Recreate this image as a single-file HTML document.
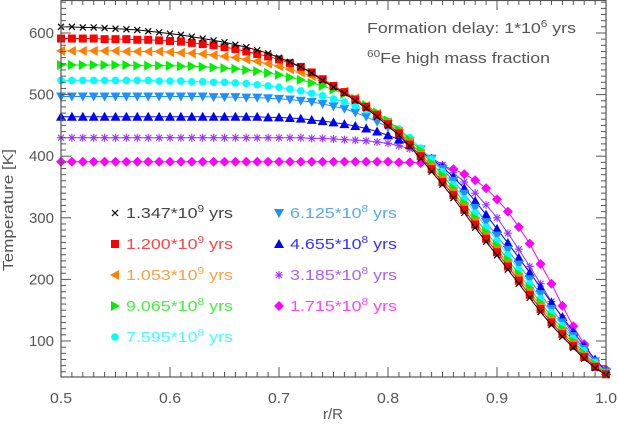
<!DOCTYPE html>
<html><head><meta charset="utf-8"><style>
html,body{margin:0;padding:0;background:#fff}
svg{display:block;font-family:"Liberation Sans","DejaVu Sans",sans-serif}
</style></head><body>
<svg id="chart" width="618" height="424" viewBox="0 0 618 424" xmlns="http://www.w3.org/2000/svg"></svg>
<script>
const rValues=[];for(let i=0;i<=50;i++)rValues.push(+(0.5+i*0.01).toFixed(2));
const seriesLabels=["1.347","1.200","1.053","9.065","7.595","6.125","4.655","3.185","1.715"];
const seriesExp=["9","9","9","8","8","8","8","8","8"];
const sBlack=[610,610,609,609,608,607,606,605,603,601,599,597,594,591,588,585,581,577,572,567,560,553,545,535,523,512,502,490,478,464,449,434,416,396,375,354,332,308,284,261,239,216,193,170,147,126,107,89,71,56,45];
const sRed=[591,591,591,591,590,590,590,589,589,588,587,586,584,582,580,577,574,570,566,562,557,551,545,536,525,514,504,492,480,467,452,437,419,400,379,358,337,313,289,266,244,221,198,175,152,130,111,92,74,58,46];
const sOrange=[571,571,571,571,571,571,570,570,570,570,569,568,567,566,564,562,560,557,554,550,546,541,536,530,523,514,505,494,482,469,455,440,423,404,384,363,342,318,294,271,249,226,203,180,157,135,115,96,77,60,47];
const sGreen=[548,548,548,548,548,548,548,547,547,547,547,546,546,545,544,543,542,540,538,535,532,528,524,519,514,508,501,493,483,471,458,443,427,409,389,369,348,324,300,277,255,232,209,186,162,140,120,100,80,62,48];
const sCyan=[523,523,523,523,523,523,523,523,523,522,522,522,521,521,520,520,519,518,516,514,512,509,506,502,498,493,488,482,475,466,456,444,430,413,395,375,354,331,308,285,263,240,216,193,169,146,125,104,84,65,49];
const sLightBlue=[497,497,497,497,497,497,497,497,497,497,497,497,497,497,496,496,496,495,495,494,493,492,490,488,485,481,477,471,464,456,447,437,425,411,396,379,360,339,316,293,271,248,224,200,176,152,130,108,87,67,50];
const sBlue=[464,464,464,464,464,464,464,464,464,464,464,464,464,464,464,464,464,464,464,463,463,462,461,459,457,455,452,449,445,440,434,427,418,408,396,382,366,348,327,305,282,259,235,211,187,162,139,115,92,70,51];
const sPurple=[430,430,430,430,430,430,430,430,430,430,430,430,430,430,430,430,430,430,430,430,430,430,430,429,429,428,427,426,425,423,421,417,412,405,397,386,373,358,340,321,300,275,249,221,193,164,137,110,86,64,52];
const sMagenta=[391,391,391,391,391,391,391,391,391,391,391,391,391,391,391,391,391,391,391,391,391,391,391,391,391,391,391,391,391,391,391,390,390,389,387,384,379,371,361,348,330,310,285,258,225,193,157,124,95,68,54];
const xTicks=[0.5,0.6,0.7,0.8,0.9,1.0];
const yTicks=[100,200,300,400,500,600];

const allSeries=[sBlack,sRed,sOrange,sGreen,sCyan,sLightBlue,sBlue,sPurple,sMagenta];
const colors=["#000000","#ff0000","#ff8000","#00ee00","#00ffff","#1e90ff","#0000ff","#9933ff","#ff00ff"];
const textColors=["#444444","#ff4444","#ffa040","#44ee44","#44ffff","#55a8ff","#3333ff","#aa60ff","#ff44ff"];
const markers=["x","square","tleft","tright","circle","tdown","tup","star","diamond"];
const names=["1347","1200","1053","9065","7595","6125","4655","3185","1715"];
const L=61,R=606,T=0,B=377;
const x=v=>L+(v-0.5)/0.5*(R-L);
const y=v=>33+(600-v)*0.616;
const NS="http://www.w3.org/2000/svg";
const svg=document.getElementById('chart');
function mk(tag,attrs,parent){const e=document.createElementNS(NS,tag);for(const k in attrs)e.setAttribute(k,attrs[k]);(parent||svg).appendChild(e);return e;}

const plotG=mk('g',{});


function marker(type,cx,cy,col,g){
  let e;
  if(type==="x"){e=mk('path',{d:`M${cx-3},${cy-3}L${cx+3},${cy+3}M${cx-3},${cy+3}L${cx+3},${cy-3}`,stroke:col,'stroke-width':1.2,fill:'none'},g);}
  else if(type==="square"){e=mk('rect',{x:cx-4,y:cy-4,width:8,height:8,fill:col},g);}
  else if(type==="tleft"){e=mk('polygon',{points:`${cx-5},${cy} ${cx+4},${cy-5} ${cx+4},${cy+5}`,fill:col},g);}
  else if(type==="tright"){e=mk('polygon',{points:`${cx+5},${cy} ${cx-4},${cy-5} ${cx-4},${cy+5}`,fill:col},g);}
  else if(type==="tdown"){e=mk('polygon',{points:`${cx},${cy+5} ${cx-5},${cy-4} ${cx+5},${cy-4}`,fill:col},g);}
  else if(type==="tup"){e=mk('polygon',{points:`${cx},${cy-5} ${cx-5},${cy+4} ${cx+5},${cy+4}`,fill:col},g);}
  else if(type==="circle"){e=mk('circle',{cx:cx,cy:cy,r:3.8,fill:col},g);}
  else if(type==="diamond"){e=mk('polygon',{points:`${cx},${cy-5} ${cx+5},${cy} ${cx},${cy+5} ${cx-5},${cy}`,fill:col},g);}
  else {e=mk('path',{d:`M${cx-3},${cy-3}L${cx+3},${cy+3}M${cx-3},${cy+3}L${cx+3},${cy-3}M${cx},${cy-4}L${cx},${cy+4}M${cx-4},${cy}L${cx+4},${cy}`,stroke:col,'stroke-width':1.1,fill:'none'},g);}
  return e;
}
for(let s=allSeries.length-1;s>=0;s--){
  const data=allSeries[s];
  const g=mk('g',{},plotG);
  
  
  const line=mk('polyline',{points:data.map((v,i)=>x(rValues[i])+','+y(v)).join(' '),fill:'none',stroke:colors[s],'stroke-width':1},g);
  
  
  data.forEach((v,i)=>{
    const m=marker(markers[s],x(rValues[i]),y(v),colors[s],g);
    
    
  });
}
const frame=mk('rect',{x:L,y:T+0.5,width:R-L,height:B-T-0.5,fill:'none',stroke:'#555','stroke-width':1.2});


const ticksG=mk('g',{stroke:'#555','stroke-width':1});


for(let i=0;i<=50;i++){const xv=x(0.5+i*0.01);const len=(i%10===0)?10:5;
  mk('line',{x1:xv,y1:B,x2:xv,y2:B-len},ticksG);mk('line',{x1:xv,y1:T,x2:xv,y2:T+len},ticksG);}
for(let v=50;v<=650;v+=10){const yv=y(v);if(yv<T||yv>B)continue;const len=(v%100===0)?10:5;
  mk('line',{x1:L,y1:yv,x2:L+len,y2:yv},ticksG);mk('line',{x1:R,y1:yv,x2:R-len,y2:yv},ticksG);}
xTicks.forEach(v=>{const t=mk('text',{x:x(v),y:403,'text-anchor':'middle','font-size':15,fill:'#555',textLength:22,lengthAdjust:'spacingAndGlyphs'});t.textContent=v.toFixed(1);
  });
yTicks.forEach(v=>{const t=mk('text',{x:54,y:y(v)+5,'text-anchor':'end','font-size':15,fill:'#555'});t.textContent=v;
  });
const xt=mk('text',{x:333,y:419,'text-anchor':'middle','font-size':15,fill:'#555'});xt.textContent='r/R';

const yt=mk('text',{x:0,y:0,'text-anchor':'middle','font-size':15,fill:'#555',transform:'translate(13,210) rotate(-90)',textLength:122,lengthAdjust:'spacingAndGlyphs'});yt.textContent='Temperature [K]';

const a1=mk('text',{x:367,y:33,'font-size':15,fill:'#555',textLength:209,lengthAdjust:'spacingAndGlyphs'});a1.innerHTML='Formation delay: 1*10<tspan dy="-6" font-size="10">6</tspan><tspan dy="6"> yrs</tspan>';

const a2=mk('text',{x:367,y:63,'font-size':15,fill:'#555',textLength:183,lengthAdjust:'spacingAndGlyphs'});a2.innerHTML='<tspan dy="-6" font-size="10">60</tspan><tspan dy="6">Fe high mass fraction</tspan>';

const legendRowsY=[213,244,275,306,337];
for(let s=0;s<9;s++){
  const col=s<5?0:1,row=s<5?s:s-5;
  const mx=col===0?115:279,ty=legendRowsY[row];
  const g=mk('g',{});
  
  
  marker(markers[s],mx,ty,colors[s],g);
  const t=mk('text',{x:mx+11,y:ty+5,'font-size':15,fill:textColors[s],textLength:107,lengthAdjust:'spacingAndGlyphs'},g);
  t.innerHTML=seriesLabels[s]+'*10<tspan dy="-6" font-size="10">'+seriesExp[s]+'</tspan><tspan dy="6"> yrs</tspan>';
}
</script>
</body></html>
